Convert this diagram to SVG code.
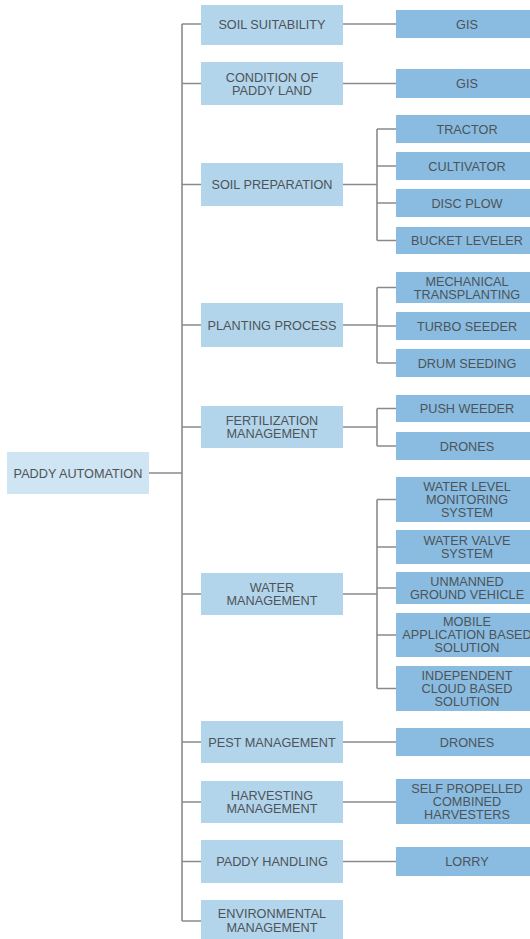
<svg xmlns="http://www.w3.org/2000/svg" width="530" height="939" viewBox="0 0 530 939">
<style>
.r{fill:#cfe5f3}
.l1{fill:#b3d5eb}
.l2{fill:#89bce0}
text{font-family:"Liberation Sans",Arial,sans-serif;font-size:12.7px;fill:#4d5358;text-anchor:middle}
.c path{stroke:#8a8a8a;stroke-width:1.6;fill:none}
</style>
<rect width="530" height="939" fill="#fff"/>
<g class="c" id="connectors">
<path d="M149 473H182M182 24V921"/>
<path d="M182 24H201M182 83.5H201M182 184.5H201M182 325H201M182 427H201M182 594H201M182 742H201M182 802H201M182 861.5H201M182 921H201"/>
<path d="M343 24H396M343 83.5H396M343 742H396M343 802H396M343 861.5H396"/>
<path d="M343 184.5H377M377 129V240.5M377 129H396M377 166H396M377 203H396M377 240.5H396"/>
<path d="M343 325H377M377 287.5V363M377 287.5H396M377 326H396M377 363H396"/>
<path d="M343 427H377M377 408.5V446M377 408.5H396M377 446H396"/>
<path d="M343 594H377M377 499.5V688.5M377 499.5H396M377 547H396M377 588H396M377 635H396M377 688.5H396"/>
</g>
<g id="root"><rect class="r" x="7" y="452" width="142" height="42"/><text x="78" y="477.5">PADDY AUTOMATION</text></g>
<g id="soil-suitability"><rect class="l1" x="201" y="5" width="142" height="40"/><text x="272" y="28.5">SOIL SUITABILITY</text></g>
<g id="condition"><rect class="l1" x="201" y="62" width="142" height="43"/><text x="272" y="81.5">CONDITION OF</text><text x="272" y="95">PADDY LAND</text></g>
<g id="soil-preparation"><rect class="l1" x="201" y="163" width="142" height="43"/><text x="272" y="189">SOIL PREPARATION</text></g>
<g id="planting"><rect class="l1" x="201" y="303" width="142" height="44"/><text x="272" y="329.5">PLANTING PROCESS</text></g>
<g id="fertilization"><rect class="l1" x="201" y="406" width="142" height="42"/><text x="272" y="424.5">FERTILIZATION</text><text x="272" y="438">MANAGEMENT</text></g>
<g id="water"><rect class="l1" x="201" y="573" width="142" height="42"/><text x="272" y="591.5">WATER</text><text x="272" y="605">MANAGEMENT</text></g>
<g id="pest"><rect class="l1" x="201" y="721" width="142" height="42"/><text x="272" y="746.5">PEST MANAGEMENT</text></g>
<g id="harvesting"><rect class="l1" x="201" y="781" width="142" height="42"/><text x="272" y="799.5">HARVESTING</text><text x="272" y="813">MANAGEMENT</text></g>
<g id="paddy-handling"><rect class="l1" x="201" y="840" width="142" height="43"/><text x="272" y="866">PADDY HANDLING</text></g>
<g id="environmental"><rect class="l1" x="201" y="900" width="142" height="42"/><text x="272" y="918">ENVIRONMENTAL</text><text x="272" y="931.5">MANAGEMENT</text></g>
<g id="gis1"><rect class="l2" x="396" y="10" width="142" height="28"/><text x="467" y="28.5">GIS</text></g>
<g id="gis2"><rect class="l2" x="396" y="69" width="142" height="29"/><text x="467" y="88">GIS</text></g>
<g id="tractor"><rect class="l2" x="396" y="115" width="142" height="28"/><text x="467" y="133.5">TRACTOR</text></g>
<g id="cultivator"><rect class="l2" x="396" y="152" width="142" height="28"/><text x="467" y="170.5">CULTIVATOR</text></g>
<g id="disc-plow"><rect class="l2" x="396" y="189" width="142" height="28"/><text x="467" y="207.5">DISC PLOW</text></g>
<g id="bucket-leveler"><rect class="l2" x="396" y="227" width="142" height="27"/><text x="467" y="245">BUCKET LEVELER</text></g>
<g id="mechanical"><rect class="l2" x="396" y="272" width="142" height="31"/><text x="467" y="285.5">MECHANICAL</text><text x="467" y="298.5">TRANSPLANTING</text></g>
<g id="turbo-seeder"><rect class="l2" x="396" y="312" width="142" height="28"/><text x="467" y="330.5">TURBO SEEDER</text></g>
<g id="drum-seeding"><rect class="l2" x="396" y="349" width="142" height="28"/><text x="467" y="367.5">DRUM SEEDING</text></g>
<g id="push-weeder"><rect class="l2" x="396" y="395" width="142" height="27"/><text x="467" y="413">PUSH WEEDER</text></g>
<g id="drones1"><rect class="l2" x="396" y="432" width="142" height="28"/><text x="467" y="450.5">DRONES</text></g>
<g id="water-level"><rect class="l2" x="396" y="477" width="142" height="45"/><text x="467" y="490.5">WATER LEVEL</text><text x="467" y="503.5">MONITORING</text><text x="467" y="516.5">SYSTEM</text></g>
<g id="water-valve"><rect class="l2" x="396" y="530" width="142" height="34"/><text x="467" y="545">WATER VALVE</text><text x="467" y="558">SYSTEM</text></g>
<g id="ugv"><rect class="l2" x="396" y="572" width="142" height="32"/><text x="467" y="586">UNMANNED</text><text x="467" y="599">GROUND VEHICLE</text></g>
<g id="mobile"><rect class="l2" x="396" y="613" width="142" height="44"/><text x="467" y="626">MOBILE</text><text x="467" y="639">APPLICATION BASED</text><text x="467" y="652">SOLUTION</text></g>
<g id="cloud"><rect class="l2" x="396" y="666" width="142" height="45"/><text x="467" y="679.5">INDEPENDENT</text><text x="467" y="692.5">CLOUD BASED</text><text x="467" y="705.5">SOLUTION</text></g>
<g id="drones2"><rect class="l2" x="396" y="728" width="142" height="28"/><text x="467" y="746.5">DRONES</text></g>
<g id="self-propelled"><rect class="l2" x="396" y="779" width="142" height="45"/><text x="467" y="792.5">SELF PROPELLED</text><text x="467" y="805.5">COMBINED</text><text x="467" y="818.5">HARVESTERS</text></g>
<g id="lorry"><rect class="l2" x="396" y="847" width="142" height="29"/><text x="467" y="866">LORRY</text></g>
</svg>
